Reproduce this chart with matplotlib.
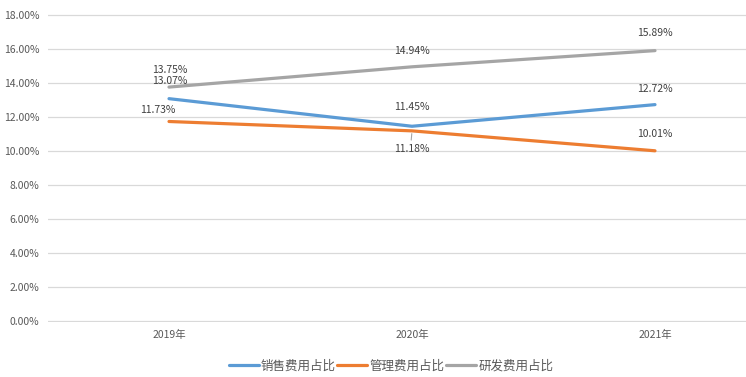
import matplotlib
matplotlib.use("Agg")
import matplotlib.pyplot as plt
from matplotlib.ticker import FuncFormatter

plt.rcParams['font.family'] = ['Noto Sans CJK SC', 'DejaVu Sans']

years = ['2019年', '2020年', '2021年']
series_names = ['销售费用占比', '管理费用占比', '研发费用占比']
sales = [13.07, 11.45, 12.72]
admin = [11.73, 11.18, 10.01]
rnd = [13.75, 14.94, 15.89]
colors = ['#5B9BD5', '#ED7D31', '#A5A5A5']

W, H = 746, 377
fig = plt.figure(figsize=(W/100, H/100), dpi=100)
left, right, top, bottom = 47.5, 776.5, 14, 322
ax = fig.add_axes([left/W, 1 - bottom/H, (right-left)/W, (bottom-top)/H])

x = list(range(len(years)))
for vals, c, name in zip([sales, admin, rnd], colors, series_names):
    ax.plot(x, vals, color=c, lw=2.3, label=name, solid_capstyle='round', zorder=3)

ax.set_xlim(-0.5, 2.5)
ax.set_ylim(-0.04, 18.04)
ax.set_yticks([i*2 for i in range(10)])
ax.yaxis.set_major_formatter(FuncFormatter(lambda v, p: f'{v:.2f}%'))
ax.grid(axis='y', color='#D9D9D9', lw=0.9)
ax.set_axisbelow(True)
for s in ax.spines.values():
    s.set_visible(False)
ax.tick_params(axis='both', length=0, labelsize=7.5, colors='#595959')
ax.tick_params(axis='y', pad=6)
ax.tick_params(axis='x', pad=6)
ax.set_xticks(x)
ax.set_xticklabels(years)

lab_kw = dict(textcoords='offset pixels', ha='center', va='center', fontsize=7.5, color='#404040', zorder=4)
offs = {
    'sales': [(1, 18), (0, 19), (0, 16)],
    'admin': [(-11, 11), (0, -18), (0, 17)],
    'rnd': [(1, 17), (0, 16), (0, 18)],
}
for key, vals in [('sales', sales), ('admin', admin), ('rnd', rnd)]:
    for i, v in enumerate(vals):
        ax.annotate(f'{v:.2f}%', (x[i], v), xytext=offs[key][i], **lab_kw)

ax.annotate('', (x[1], admin[1]), xytext=(-1, -12), textcoords='offset pixels',
            arrowprops=dict(arrowstyle='-', color='#A5A5A5', lw=0.8))

leg = fig.legend(loc='center', bbox_to_anchor=(391/W, 1 - 366/H), ncol=3, frameon=False,
                 fontsize=9, handlelength=2.4, handletextpad=0.2, columnspacing=0.1,
                 labelcolor='#595959')
fig.savefig('out.png', dpi=100)
